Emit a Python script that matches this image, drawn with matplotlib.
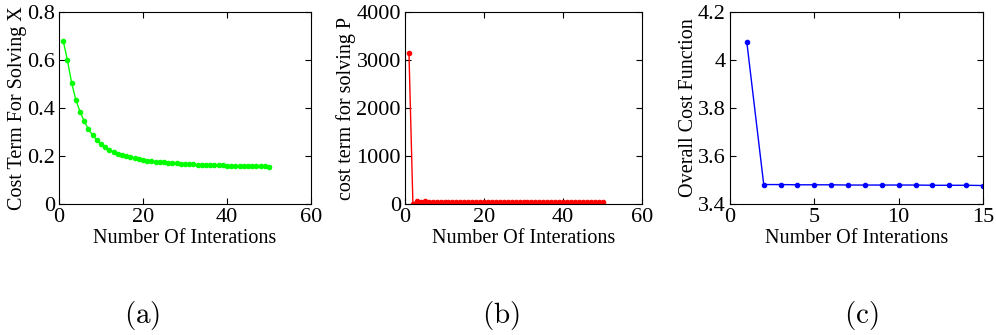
import matplotlib
matplotlib.use('Agg')
import matplotlib.pyplot as plt

# panel (a): cost term for solving X
iters_x = list(range(1, 51))
cost_x = [0.680, 0.600, 0.505, 0.435, 0.385, 0.345, 0.312, 0.287, 0.267, 0.250,
          0.237, 0.226, 0.217, 0.210, 0.204, 0.199, 0.195, 0.191, 0.187, 0.184,
          0.181, 0.179, 0.177, 0.175, 0.173, 0.172, 0.170, 0.169, 0.168, 0.167,
          0.166, 0.165, 0.164, 0.164, 0.163, 0.162, 0.162, 0.161, 0.161, 0.160,
          0.160, 0.159, 0.159, 0.158, 0.158, 0.158, 0.157, 0.157, 0.157, 0.156]

# panel (b): cost term for solving P
iters_p = list(range(1, 51))
cost_p = [3150, 10, 60, 35, 55, 40, 50, 42, 48, 44,
          46, 44, 45, 44, 45, 44, 44, 44, 44, 44,
          44, 44, 44, 44, 44, 44, 44, 44, 44, 44,
          44, 44, 44, 44, 44, 44, 44, 44, 44, 44,
          44, 44, 44, 44, 44, 44, 44, 44, 44, 44]

# panel (c): overall cost function
iters_all = list(range(1, 16))
cost_all = [4.073, 3.481, 3.481, 3.480, 3.480, 3.480, 3.479, 3.479, 3.479,
            3.479, 3.479, 3.478, 3.478, 3.478, 3.477]

XLABEL = 'Number Of Interations'
TICK_FONTSIZE = 16
LABEL_FONTSIZE = 14.5
TAG_FONTSIZE = 21
LINE_PARAMS = {'lw': 1, 'marker': 'o', 'markersize': 3.2, 'markeredgewidth': 0.8}

plt.rcParams['font.family'] = 'Liberation Serif'
plt.rcParams['mathtext.fontset'] = 'cm'


def style_axis(ax):
    ax.tick_params(direction='in', top=True, right=True, length=4,
                   labelsize=TICK_FONTSIZE, pad=3)
    for sp in ax.spines.values():
        sp.set_linewidth(0.8)


fig = plt.figure(figsize=(9.96, 3.35), dpi=100)
W, H = 996, 335
boxes = [(59, 311), (405, 642), (730, 983)]
tag_x = [142, 501, 861]
top, bottom = 12, 204
axes = [fig.add_axes([l / W, 1 - bottom / H, (r - l) / W, (bottom - top) / H])
        for l, r in boxes]

ax1, ax2, ax3 = axes
ax1.plot(iters_x, cost_x, color=(0, 1, 0), **LINE_PARAMS)
ax1.set_xlim(0, 60)
ax1.set_ylim(0, 0.8)
ax1.set_xticks([0, 20, 40, 60])
ax1.set_yticks([0, 0.2, 0.4, 0.6, 0.8])
ax1.set_yticklabels(['0', '0.2', '0.4', '0.6', '0.8'])
ax1.set_ylabel('Cost Term For Solving X', fontsize=LABEL_FONTSIZE, labelpad=0)

ax2.plot(iters_p, cost_p, color=(1, 0, 0), **LINE_PARAMS)
ax2.set_xlim(0, 60)
ax2.set_ylim(0, 4000)
ax2.set_xticks([0, 20, 40, 60])
ax2.set_yticks([0, 1000, 2000, 3000, 4000])
ax2.set_ylabel('cost term for solving P', fontsize=LABEL_FONTSIZE, labelpad=0)

ax3.plot(iters_all, cost_all, color=(0, 0, 1), **LINE_PARAMS)
ax3.set_xlim(0, 15)
ax3.set_ylim(3.4, 4.2)
ax3.set_xticks([0, 5, 10, 15])
ax3.set_yticks([3.4, 3.6, 3.8, 4.0, 4.2])
ax3.set_yticklabels(['3.4', '3.6', '3.8', '4', '4.2'])
ax3.set_ylabel('Overall Cost Function', fontsize=LABEL_FONTSIZE, labelpad=0)

for ax, tag, tx in zip(axes, ['(a)', '(b)', '(c)'], tag_x):
    style_axis(ax)
    ax.set_xlabel(XLABEL, fontsize=LABEL_FONTSIZE, labelpad=1)
    fig.text(tx / W, 1 - 316 / H, r'$\mathrm{%s}$' % tag,
             fontsize=TAG_FONTSIZE, ha='center', va='center')

fig.savefig('out.png', dpi=100)
